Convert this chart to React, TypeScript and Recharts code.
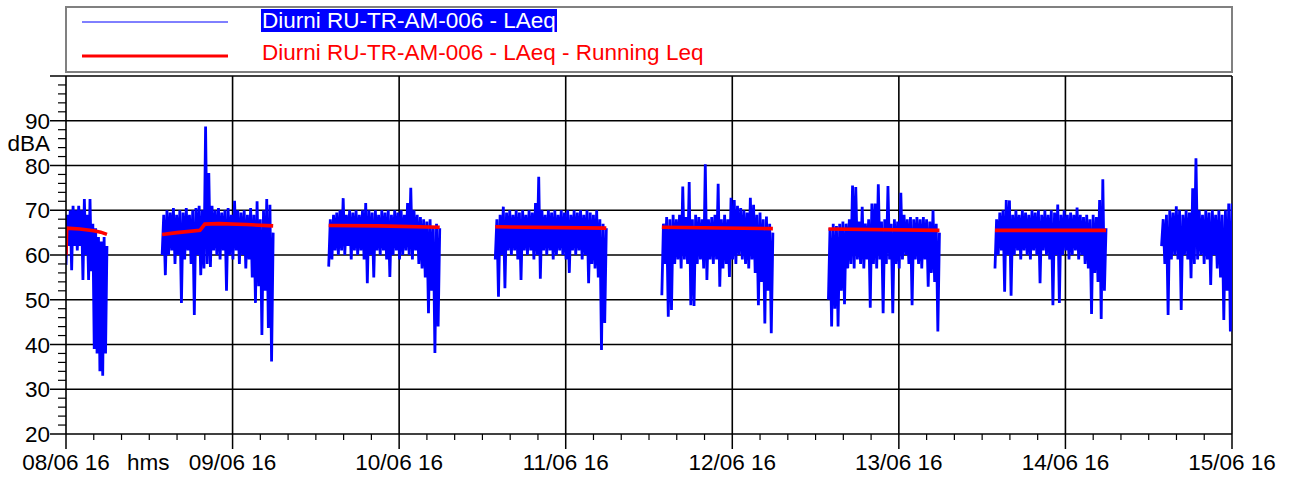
import { LineChart, Line, XAxis, YAxis, CartesianGrid } from "recharts";

const seriesName = "Diurni RU-TR-AM-006 - LAeq";
const runningName = "Diurni RU-TR-AM-006 - LAeq - Running Leq";
const unitLabel = "dBA";
const timeLabel = "hms";

// day ticks every 24 h from 08/06 to 15/06
const dayLabels = ["08/06 16", "09/06 16", "10/06 16", "11/06 16", "12/06 16", "13/06 16", "14/06 16", "15/06 16"];

// daytime measuring windows, hours from the axis origin
const segStart = [0, 13.85, 37.85, 61.85, 85.85, 109.85, 133.85, 157.85];
const segEnd = [5.9, 29.85, 53.85, 77.85, 101.85, 125.85, 149.85, 168];

// LAeq samples (dBA), evenly spaced across each window
const laeqDay1 = [57.8, 69, 62, 70, 56.6, 71, 62, 70, 61, 71, 62, 70, 54.4, 72.5, 60, 69, 54.4, 72.5, 56.4, 67, 39, 66, 38, 64, 34, 63, 33, 64, 38, 62];
const laeqDay2 = [60, 69, 55.5, 70, 60, 69.5, 61, 70.5, 58, 69, 60, 70, 49.3, 69.5, 59, 70.5, 61, 69, 58, 70, 46.6, 70.5, 60, 71, 55.5, 70, 57, 88.7, 58, 78.3, 57.3, 71, 61, 70, 60, 70.5, 59, 69.5, 61, 70, 52, 70.5, 60, 69, 59, 72.1, 61, 70, 58, 69.5, 60, 70, 57, 69, 59, 70.5, 55, 69, 49.3, 72, 53, 68, 42.1, 70, 52, 72.5, 43.7, 71.2, 36.2, 65];
const laeqDay3 = [57.4, 68, 59, 69, 61, 69.5, 60, 70, 61, 72.7, 60, 69, 62, 70, 59, 69.5, 61, 70, 60, 69, 61, 70, 59, 71.6, 53.7, 70, 60, 69.5, 55, 70, 61, 69, 60, 70, 61, 69.5, 59, 70, 55.1, 69, 60, 70, 61, 69.5, 59, 70, 60, 69, 61, 71.6, 60, 75, 59, 70, 61, 69, 58, 68.5, 57, 68, 55, 67.5, 47, 68, 52, 66, 38.1, 67, 44, 66];
const laeqDay4 = [59, 68, 50.7, 69, 60, 70.8, 52.6, 69.5, 61, 70, 60, 69, 61, 70, 59, 69.5, 54.4, 70, 61, 69, 60, 70, 61, 69.5, 59, 71.6, 60, 77.5, 54.7, 70, 61, 69, 60, 70, 61, 69.5, 59, 70, 60, 69, 61, 70, 60, 69.5, 59, 70, 56, 69, 61, 70, 60, 69.5, 61, 70, 59, 69, 60, 70, 53.7, 69.5, 58, 69, 57, 70, 55, 68, 38.8, 67, 44.8, 66];
const laeqDay5 = [51, 67, 58, 68.5, 46.2, 68, 47.7, 69, 58, 68, 59, 69, 57, 75.3, 59, 68.5, 58, 76.3, 48.8, 68, 48.6, 69, 58, 68.5, 59, 68, 57, 80.3, 54.4, 68, 59, 68.5, 58, 69, 59, 75.9, 52.9, 68, 57, 69, 58, 68, 55.1, 72.8, 59, 72.3, 58, 71, 60, 70.5, 59, 70, 58, 69.5, 57, 72.8, 59, 71.2, 56, 69, 48.8, 69.5, 54, 68, 44.7, 68.6, 52, 67, 42.5, 65];
const laeqDay6 = [50, 66, 44, 67, 48, 66.5, 44, 67, 52, 67.5, 49, 67, 57, 68, 58, 75.5, 57, 75.2, 59, 67.5, 58, 70.8, 57, 67, 59, 68, 48.2, 71.5, 58, 71.5, 57, 75.8, 59, 67.5, 47, 68, 58, 75.4, 59, 67, 47, 68, 58, 67.5, 57, 73.9, 59, 69, 60, 68, 58, 68.5, 48.8, 68, 59, 68.5, 58, 68, 57, 68.5, 59, 68, 52.9, 67.5, 56, 70, 54, 67, 42.9, 65];
const laeqDay7 = [57, 68, 60, 69.5, 61, 70, 51.8, 72.3, 60, 72.2, 50.9, 69, 60, 70, 61, 69, 59, 70, 61, 69.5, 60, 69, 59, 70, 61, 69.5, 60, 70, 53.7, 69, 61, 70, 60, 69, 59, 70, 48.8, 69.5, 60, 71.3, 49.3, 69, 60, 70, 61, 69, 59, 69.5, 60, 69, 61, 70.6, 59, 69, 60, 68.5, 58, 69, 57, 68, 46.8, 69, 56, 68.5, 54, 72.3, 45.7, 76.9, 52, 66];
const laeqDay8 = [62, 68, 58, 69, 46.6, 70, 59, 69.5, 60, 70.9, 59, 70, 47.7, 69, 60, 70, 59, 69.5, 54.8, 74.9, 58, 81.6, 59, 70, 60, 69, 58, 70, 59, 69.5, 53.3, 70, 60, 69, 57, 70, 55, 69, 45.5, 70, 52, 71.5, 42.9, 71.5];
const laeqDays = [laeqDay1, laeqDay2, laeqDay3, laeqDay4, laeqDay5, laeqDay6, laeqDay7, laeqDay8];

// running Leq per window: [hour, dBA]
const leqDay1 = [[0, 60], [0.1, 66], [2, 65.8], [4, 65.4], [5, 65.1], [5.9, 64.6]];
const leqDay2 = [[13.85, 64.6], [16, 65], [19.3, 65.5], [20, 66.9], [22, 67], [26, 66.8], [29.85, 66.5]];
const leqDay3 = [[37.85, 66.6], [45, 66.5], [53.85, 66.2]];
const leqDay4 = [[61.85, 66.3], [77.85, 66.0]];
const leqDay5 = [[85.85, 66.2], [101.85, 65.9]];
const leqDay6 = [[109.85, 65.8], [125.85, 65.5]];
const leqDay7 = [[133.85, 65.5], [149.85, 65.5]];
const leqDays = [leqDay1, leqDay2, leqDay3, leqDay4, leqDay5, leqDay6, leqDay7];

type Pt = { t: number; v: number | null };

const laeqData: Pt[] = [];
laeqDays.forEach((vals, s) => {
  const step = (segEnd[s] - segStart[s]) / (vals.length - 1);
  vals.forEach((v, i) => laeqData.push({ t: segStart[s] + i * step, v }));
  laeqData.push({ t: segEnd[s] + 0.01, v: null });
});

const leqData: Pt[] = [];
leqDays.forEach((pts) => {
  pts.forEach(([t, v]) => leqData.push({ t, v }));
  leqData.push({ t: pts[pts.length - 1][0] + 0.01, v: null });
});

const xTicks: number[] = [];
for (let h = 0; h <= 168; h += 4) xTicks.push(h);
const yTicks: number[] = [];
for (let d = 20; d <= 100; d += 2) yTicks.push(d);

const FONT = "'Liberation Sans', Arial, sans-serif";

function XTick({ x, y, payload }: any) {
  const h = payload.value as number;
  const day = h % 24 === 0;
  return (
    <g>
      <line x1={x} x2={x} y1={y} y2={y + (day ? 15 : 6)} stroke="#000" strokeWidth={day ? 1.5 : 1.2} />
      {day && (
        <text x={x} y={y + 36} textAnchor="middle" fontSize={22.5} fontFamily={FONT} fill="#000">
          {dayLabels[h / 24]}
        </text>
      )}
    </g>
  );
}

function YTick({ x, y, payload }: any) {
  const v = payload.value as number;
  const major = v % 10 === 0;
  return (
    <g>
      <line x1={x - (major ? 16 : 8)} x2={x} y1={y} y2={y} stroke="#000" strokeWidth={major ? 1.5 : 1.2} />
      {major && v < 100 && (
        <text x={x - 16} y={y + 8} textAnchor="end" fontSize={22.5} fontFamily={FONT} fill="#000">
          {v}
        </text>
      )}
    </g>
  );
}

export default function App() {
  return (
    <div style={{ position: "absolute", left: 0, top: 0, width: 1294, height: 482, background: "#fff" }}>
      <LineChart width={1294} height={482} margin={{ top: 76, right: 62, left: 0, bottom: 0 }}>
        <CartesianGrid
          stroke="#000"
          strokeWidth={1.6}
          horizontalValues={[30, 40, 50, 60, 70, 80, 90, 100]}
          verticalValues={[24, 48, 72, 96, 120, 144, 168]}
        />
        <XAxis
          type="number"
          dataKey="t"
          domain={[0, 168]}
          ticks={xTicks}
          interval={0}
          height={48}
          tickSize={0}
          tickMargin={0}
          tickLine={false}
          axisLine={{ stroke: "#000", strokeWidth: 1.6 }}
          tick={<XTick />}
          allowDataOverflow
        />
        <YAxis
          type="number"
          domain={[20, 100]}
          ticks={yTicks}
          interval={0}
          width={66}
          tickSize={0}
          tickMargin={0}
          tickLine={false}
          axisLine={{ stroke: "#000", strokeWidth: 1.6 }}
          tick={<YTick />}
          allowDataOverflow
        />
        <Line
          data={laeqData}
          dataKey="v"
          name={seriesName}
          type="linear"
          stroke="#0000ff"
          strokeWidth={2.8}
          strokeLinejoin="bevel"
          dot={false}
          activeDot={false}
          isAnimationActive={false}
        />
        <Line
          data={leqData}
          dataKey="v"
          name={runningName}
          type="linear"
          stroke="#ff0000"
          strokeWidth={3.6}
          dot={false}
          activeDot={false}
          isAnimationActive={false}
        />
        <text x={50} y={151} textAnchor="end" fontSize={22.5} fontFamily={FONT} fill="#000">
          {unitLabel}
        </text>
        <text x={127} y={470} fontSize={22.5} fontFamily={FONT} fill="#000">
          {timeLabel}
        </text>
        {/* legend box */}
        <rect x={66} y={7} width={1166} height={65} fill="#fff" stroke="#808080" strokeWidth={2} />
        <line x1={82} x2={228} y1={22} y2={22} stroke="#0000ff" strokeWidth={1} />
        <rect x={261} y={9} width={296} height={23} fill="#0000ff" />
        <text x={262} y={27.5} fontSize={22.5} fontFamily={FONT} fill="#fff">
          {seriesName}
        </text>
        <line x1={82} x2={228} y1={56} y2={56} stroke="#ff0000" strokeWidth={3} />
        <text x={262} y={59.5} fontSize={22.5} fontFamily={FONT} fill="#ff0000">
          {runningName}
        </text>
      </LineChart>
    </div>
  );
}
